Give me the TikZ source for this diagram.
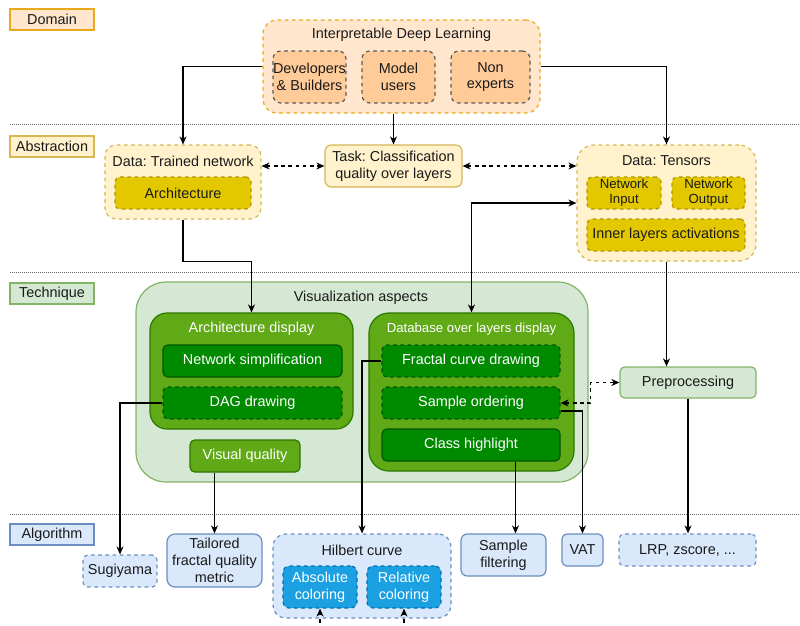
\documentclass[tikz,border=0pt]{standalone}
\usepackage{fontspec}
\setmainfont{Liberation Sans}
\usetikzlibrary{arrows.meta,calc}
\frenchspacing
\definecolor{orF}{HTML}{FFE6CC}
\definecolor{orD}{HTML}{D79B00}
\definecolor{orB}{HTML}{E8A91C}
\definecolor{orI}{HTML}{FFCC99}
\definecolor{grayD}{HTML}{5A5A5A}
\definecolor{yeF}{HTML}{FFF2CC}
\definecolor{yeD}{HTML}{D6B656}
\definecolor{yeI}{HTML}{E3C800}
\definecolor{yeID}{HTML}{B09500}
\definecolor{grL}{HTML}{D5E8D4}
\definecolor{grLD}{HTML}{82B366}
\definecolor{grM}{HTML}{60A917}
\definecolor{grMD}{HTML}{2D7600}
\definecolor{grK}{HTML}{008A00}
\definecolor{grKD}{HTML}{005700}
\definecolor{blL}{HTML}{DAE8FC}
\definecolor{blLD}{HTML}{6C8EBF}
\definecolor{blM}{HTML}{1BA1E2}
\definecolor{blMD}{HTML}{006EAF}
\definecolor{txt}{HTML}{1A1A1A}
\newcommand\fsN{\fontsize{14.4}{16.8}\selectfont\frenchspacing}
\newcommand\fsS{\fontsize{13.2}{15}\selectfont\frenchspacing}
\begin{document}
\begin{tikzpicture}[x=1pt,y=-1pt,
  every node/.style={inner sep=0pt, align=center, font=\fsN, text=txt},
  bx/.style={draw, line width=1.2pt},
  dsh/.style={dash pattern=on 3.6pt off 3.6pt},
  lab/.style={bx, minimum width=84pt, minimum height=21pt},
  sep/.style={line width=1pt, draw=gray!80!black, dash pattern=on 1pt off 1pt},
  tip/.tip={Stealth[length=8pt,width=7pt,inset=2.5pt]},
  arr/.style={line width=1.1pt, -tip},
  arr2/.style={line width=1.1pt, tip-tip},
  darr/.style={line width=1.1pt, dash pattern=on 3.6pt off 3.6pt, tip-tip},
  darrE/.style={line width=1.1pt, dash pattern=on 3.6pt off 3.6pt, -tip},
  wt/.style={text=white}
]
\useasboundingbox (0,0) rectangle (800,625);

% layer labels
\node[lab, fill=orF, draw=orB] (domL) at (52,19.5) {Domain};
\node[lab, fill=yeF, draw=yeD] (absL) at (52,146.5) {Abstraction};
\node[lab, fill=grL, draw=grLD] (tecL) at (52,293.5) {Technique};
\node[lab, fill=blL, draw=blLD] (algL) at (52,534.5) {Algorithm};

% separators
\foreach \yy/\nn in {124/a,272/b,514/c}{
  \coordinate (s\nn1) at (10,\yy);
  \coordinate (s\nn2) at (800,\yy);
  \draw[sep] (s\nn1) -- (s\nn2);
}

% domain
\node[bx, dsh, fill=orF, draw=orB, minimum width=277pt, minimum height=93pt, rounded corners=14pt] (idl) at (401.5,66.5) {};
\node (idlT) at (401.5,35) {Interpretable Deep Learning};
\node[bx, dsh, fill=orI, draw=grayD, minimum width=73pt, minimum height=52pt, rounded corners=7.8pt] (dev) at (309.5,77) {Developers\\\& Builders};
\node[bx, dsh, fill=orI, draw=grayD, minimum width=73pt, minimum height=52pt, rounded corners=7.8pt] (mod) at (398.5,77) {Model\\users};
\node[bx, dsh, fill=orI, draw=grayD, minimum width=79pt, minimum height=52pt, rounded corners=7.8pt] (non) at (490.5,77) {Non\\experts};

% abstraction
\node[bx, dsh, fill=yeF, draw=yeD, minimum width=156pt, minimum height=74pt, rounded corners=11pt] (tn) at (183,182) {};
\node (tnT) at (183,161) {Data: Trained network};
\node[bx, dsh, fill=yeI, draw=yeID, minimum width=136pt, minimum height=32pt, rounded corners=4.8pt] (arch) at (183,193) {Architecture};
\node[bx, fill=yeF, draw=yeD, minimum width=137pt, minimum height=42pt, rounded corners=6.3pt] (task) at (393.5,166) {Task: Classification\\quality over layers};
\node[bx, dsh, fill=yeF, draw=yeD, minimum width=179pt, minimum height=116pt, rounded corners=17pt] (tens) at (666.5,203) {};
\node (tensT) at (666.5,161) {Data: Tensors};
\node[bx, dsh, fill=yeI, draw=yeID, minimum width=74pt, minimum height=32pt, rounded corners=4.8pt, font=\fsS] (nin) at (624,193) {Network\\Input};
\node[bx, dsh, fill=yeI, draw=yeID, minimum width=73pt, minimum height=32pt, rounded corners=4.8pt, font=\fsS] (nout) at (708.5,193) {Network\\Output};
\node[bx, dsh, fill=yeI, draw=yeID, minimum width=158pt, minimum height=32pt, rounded corners=4.8pt] (inner) at (666,235) {Inner layers activations};

% technique
\node[bx, fill=grL, draw=grLD, minimum width=452pt, minimum height=200pt, rounded corners=30pt] (va) at (362,382) {};
\node (vaT) at (361,298) {Visualization aspects};
\node[bx, fill=grM, draw=grMD, minimum width=203pt, minimum height=116pt, rounded corners=17pt] (ad) at (251.5,371) {};
\node[wt] (adT) at (251.5,329) {Architecture display};
\node[bx, wt, fill=grK, draw=grKD, minimum width=179pt, minimum height=32pt, rounded corners=4.8pt] (ns) at (252.5,361) {Network simplification};
\node[bx, dsh, wt, fill=grK, draw=grKD, minimum width=179pt, minimum height=32pt, rounded corners=4.8pt] (dag) at (252.5,403) {DAG drawing};
\node[bx, wt, fill=grM, draw=grMD, minimum width=110pt, minimum height=32pt, rounded corners=4.8pt] (vq) at (245,456) {Visual quality};
\node[bx, fill=grM, draw=grMD, minimum width=205pt, minimum height=158pt, rounded corners=20pt] (db) at (471.5,392) {};
\node[wt, font=\fsS] (dbT) at (471.5,329) {Database over layers display};
\node[bx, dsh, wt, fill=grK, draw=grKD, minimum width=178pt, minimum height=32pt, rounded corners=4.8pt] (fc) at (471,361) {Fractal curve drawing};
\node[bx, dsh, wt, fill=grK, draw=grKD, minimum width=178pt, minimum height=32pt, rounded corners=4.8pt] (so) at (471,403) {Sample ordering};
\node[bx, wt, fill=grK, draw=grKD, minimum width=178pt, minimum height=32pt, rounded corners=4.8pt] (ch) at (471,445) {Class highlight};
\node[bx, fill=grL, draw=grLD, minimum width=136pt, minimum height=31pt, rounded corners=4.6pt] (pre) at (688,382.5) {Preprocessing};

% algorithm
\node[bx, dsh, fill=blL, draw=blLD, minimum width=74pt, minimum height=32pt, rounded corners=4.8pt] (sug) at (120,571) {Sugiyama};
\node[bx, fill=blL, draw=blLD, minimum width=95pt, minimum height=53pt, rounded corners=8pt] (tail) at (214.5,560.5) {Tailored\\fractal quality\\metric};
\node[bx, dsh, fill=blL, draw=blLD, minimum width=178pt, minimum height=84pt, rounded corners=12.6pt] (hil) at (362,576) {};
\node (hilT) at (362,550) {Hilbert curve};
\node[bx, dsh, wt, fill=blM, draw=blMD, minimum width=74pt, minimum height=42pt, rounded corners=6.3pt] (abs) at (320,587) {Absolute\\coloring};
\node[bx, dsh, wt, fill=blM, draw=blMD, minimum width=74pt, minimum height=42pt, rounded corners=6.3pt] (rel) at (404,587) {Relative\\coloring};
\node[bx, fill=blL, draw=blLD, minimum width=85pt, minimum height=42pt, rounded corners=6.3pt] (sf) at (503.5,555) {Sample\\filtering};
\node[bx, fill=blL, draw=blLD, minimum width=41pt, minimum height=32pt, rounded corners=4.8pt] (vat) at (582.5,550) {VAT};
\node[bx, dsh, fill=blL, draw=blLD, minimum width=137pt, minimum height=32pt, rounded corners=4.8pt] (lrp) at (687.5,550) {LRP, zscore, ...};

% connectors
\draw[arr] (idl.west) -| (tn.north);
\draw[arr] (task.north |- idl.south) -- (task.north);
\draw[arr] (idl.east) -| (tens.north);
\draw[darr] (task.west -| tn.east) -- (task.west);
\draw[darr] (task.east) -- (task.east -| tens.west);
\draw[arr] (tn.south) -- ++(0,42) -| (ad.north);
\draw[arr2] (db.north) |- (tens.west);
\draw[arr] (tens.south) -- (tens.south |- pre.north);
\draw[darr] (so.east) -- ++(30,0) |- (pre.west);
\draw[arr] ($(so.east)+(0,8)$) -| (vat.north);
\coordinate (chO) at ($(ch.south)+(44.5,0)$);
\draw[arr] (chO) -- (chO |- sf.north);
\draw[arr] (pre.south) -- (pre.south |- lrp.north);
\draw[arr] (dag.west) -| (sug.north);
\draw[arr] (tail.north |- vq.south) -- (tail.north);
\draw[arr] (fc.west) -| (hil.north);
\coordinate (absI) at ($(abs.south)+(0,14)$);
\coordinate (relI) at ($(rel.south)+(0,14)$);
\draw[darrE] (absI) -- (abs.south);
\draw[darrE] (relI) -- (rel.south);
\end{tikzpicture}
\end{document}
